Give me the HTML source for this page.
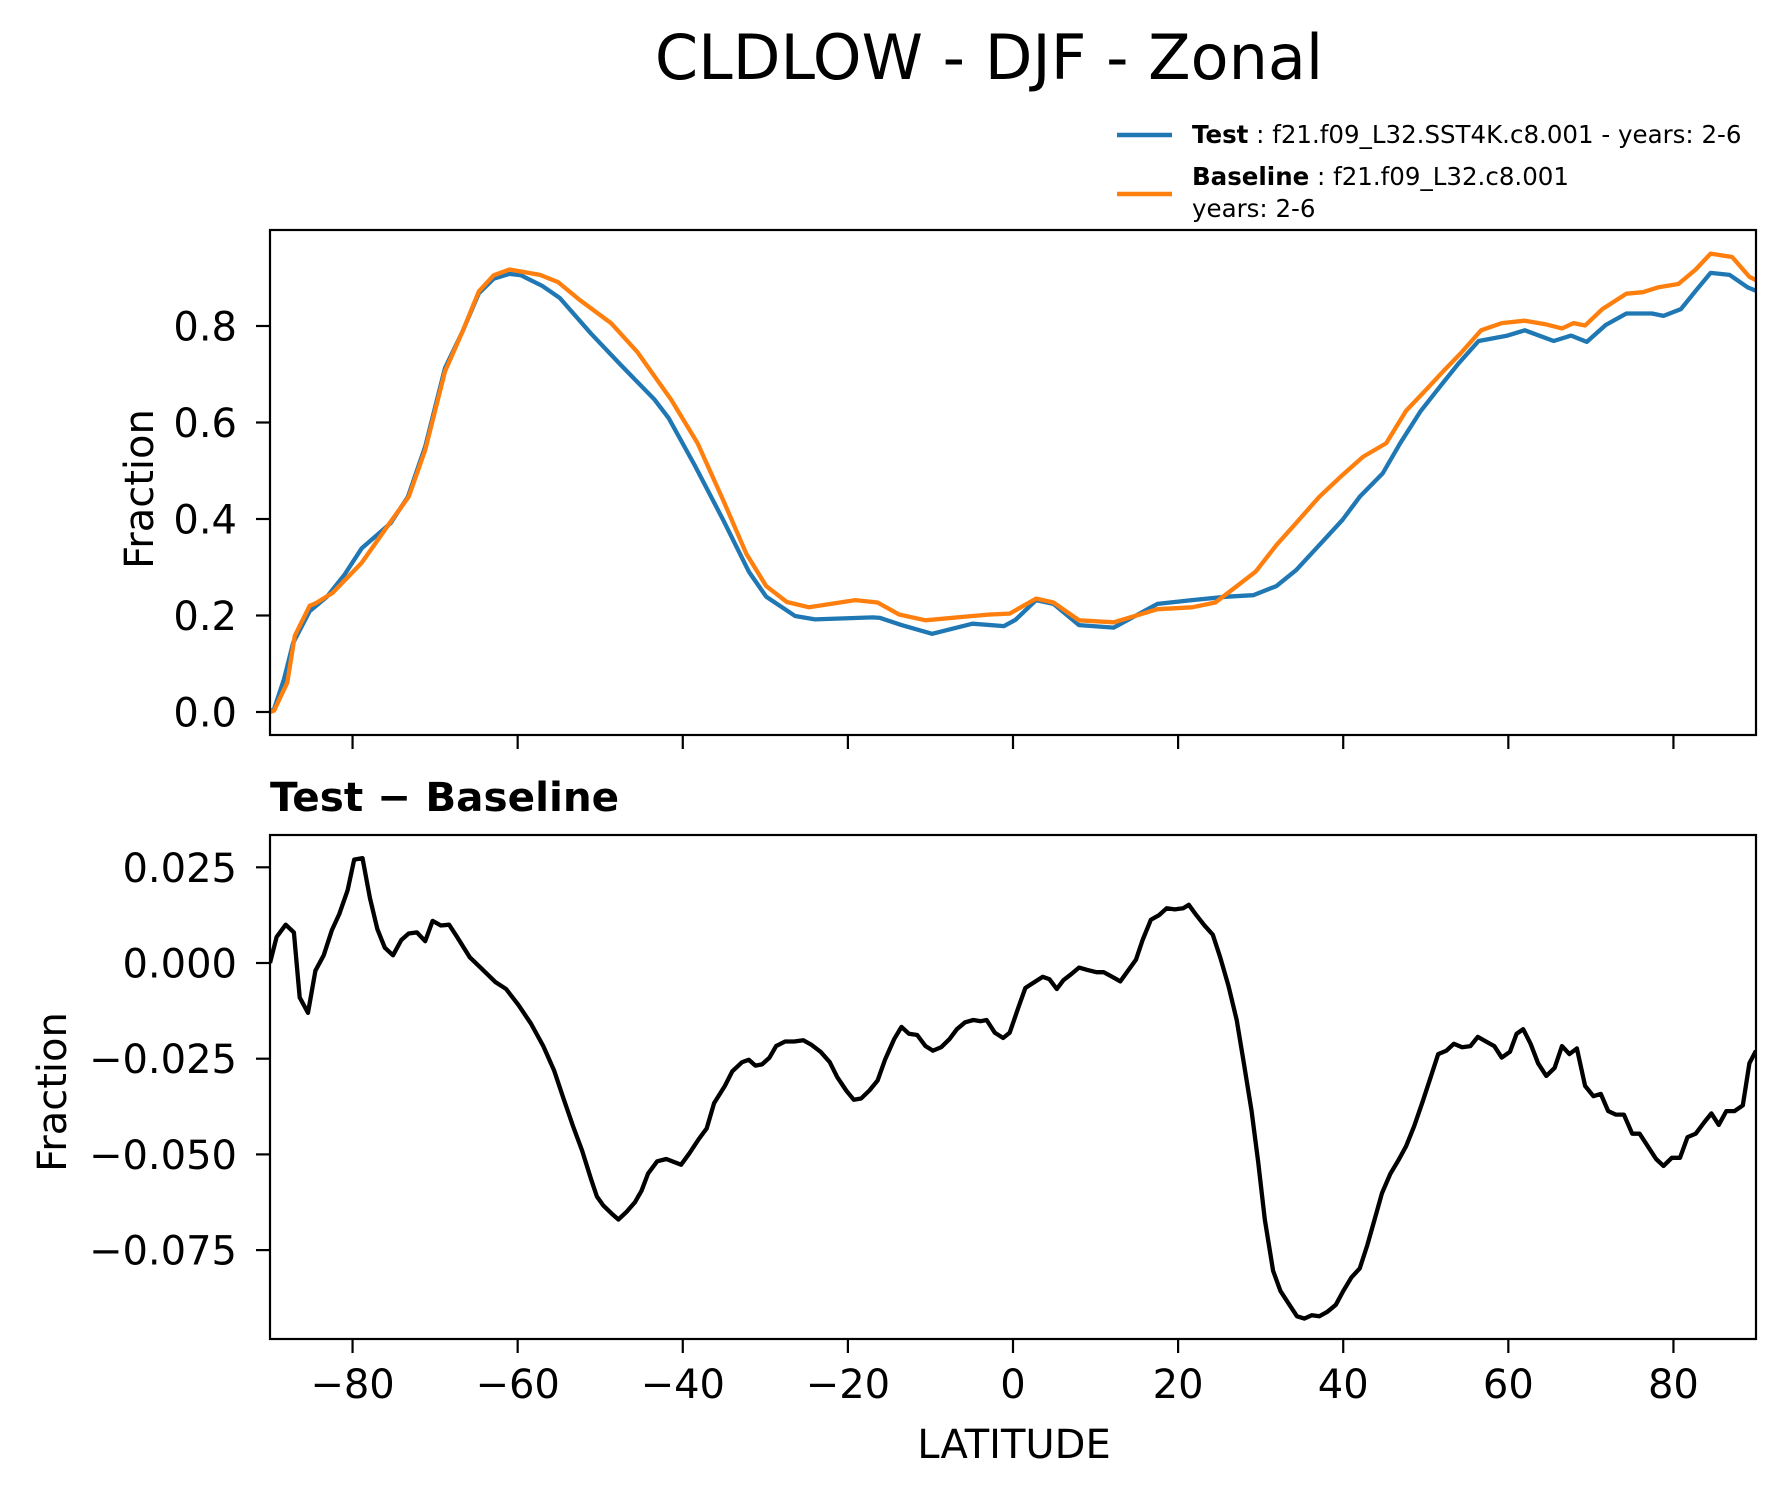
<!DOCTYPE html>
<html><head><meta charset="utf-8"><style>
html,body{margin:0;padding:0;background:#fff;}
svg{display:block;font-family:"DejaVu Sans","Liberation Sans",sans-serif;}
</style></head><body>
<svg id="chart" width="1787" height="1496" viewBox="0 0 1787 1496" xmlns="http://www.w3.org/2000/svg">
<rect width="1787" height="1496" fill="#fff"/>
<text x="989" y="79" font-size="62" text-anchor="middle">CLDLOW - DJF - Zonal</text>
<g>
<line x1="1117" y1="135" x2="1172" y2="135" stroke="#1f77b4" stroke-width="4.5"/>
<text x="1192" y="143" font-size="24.5"><tspan font-weight="bold">Test</tspan> : f21.f09_L32.SST4K.c8.001 - years: 2-6</text>
<line x1="1117" y1="194" x2="1172" y2="194" stroke="#ff7f0e" stroke-width="4.5"/>
<text x="1192" y="185" font-size="24.5"><tspan font-weight="bold">Baseline</tspan> : f21.f09_L32.c8.001</text>
<text x="1192" y="217" font-size="24.5">years: 2-6</text>
</g>
<text x="270" y="811" font-size="40.5" font-weight="bold">Test − Baseline</text>
<text transform="translate(153,489) rotate(-90)" font-size="40" text-anchor="middle">Fraction</text>
<text transform="translate(66,1092) rotate(-90)" font-size="40" text-anchor="middle">Fraction</text>
<text x="1014" y="1458" font-size="40" text-anchor="middle">LATITUDE</text>
<g id="top"></g>
<g id="bot"></g>
</svg>
<script>
const xTicks = [-80,-60,-40,-20,0,20,40,60,80];
const topYTicks = [0.0,0.2,0.4,0.6,0.8];
const topYLabels = ["0.0","0.2","0.4","0.6","0.8"];
const botYTicks = [0.025,0,-0.025,-0.05,-0.075];
const botYLabels = ["0.025","0.000","\u22120.025","\u22120.050","\u22120.075"];
const xLabels = ["\u221280","\u221260","\u221240","\u221220","0","20","40","60","80"];

const testLat = [-90,-89.5,-88.3,-87.2,-85.2,-83.1,-81,-78.9,-75.4,-73.3,-71.2,-68.8,-66.7,-64.7,-62.9,-61,-59.6,-57,-54.9,-51.1,-47.6,-43.4,-41.7,-38.6,-35.1,-32,-29.9,-26.4,-24,-17,-16.1,-13.5,-9.8,-4.9,-1.1,0.3,2.8,4.9,8,12.2,17.5,21.7,25.9,29.1,31.9,34.3,37.1,39.9,42,44.8,46.9,49.4,51.8,53.9,56.4,59.9,62,65.5,67.6,69.5,71.8,74.3,77.4,78.8,80.9,82.7,84.5,86.8,89,90];
const testVal = [0,0.006,0.068,0.143,0.209,0.239,0.284,0.339,0.391,0.446,0.55,0.713,0.788,0.868,0.898,0.908,0.905,0.883,0.858,0.784,0.721,0.647,0.609,0.513,0.398,0.291,0.239,0.199,0.192,0.196,0.195,0.18,0.162,0.183,0.178,0.191,0.232,0.224,0.18,0.175,0.224,0.232,0.239,0.242,0.261,0.294,0.346,0.398,0.446,0.495,0.557,0.624,0.676,0.721,0.769,0.78,0.791,0.769,0.78,0.767,0.802,0.826,0.826,0.821,0.835,0.873,0.91,0.906,0.88,0.873];
const baseLat = [-90,-89.5,-87.9,-87,-85.2,-84.5,-82.4,-78.9,-75.4,-73.2,-71.2,-68.8,-66.7,-64.7,-62.9,-61,-57.3,-55.1,-52.5,-48.7,-45.5,-41.4,-38.2,-35.1,-32.3,-29.9,-27.4,-24.7,-19.1,-16.4,-13.8,-10.6,-5.6,-2.8,-0.4,2.8,4.9,8,12.2,17.5,21.7,24.5,26.6,29.4,31.9,34.3,37.1,39.9,42.4,45.2,47.6,50.1,52.1,54.2,56.7,59.2,62,64.4,66.5,67.9,69.3,71.4,74.3,76.3,78.1,80.6,82.7,84.5,87.1,89.2,90];
const baseVal = [0,0.003,0.061,0.158,0.22,0.225,0.247,0.309,0.394,0.446,0.543,0.706,0.788,0.872,0.905,0.917,0.906,0.891,0.854,0.806,0.746,0.647,0.557,0.439,0.328,0.261,0.228,0.217,0.232,0.227,0.202,0.19,0.198,0.202,0.204,0.235,0.227,0.19,0.186,0.213,0.217,0.227,0.254,0.291,0.346,0.392,0.446,0.491,0.529,0.557,0.624,0.669,0.706,0.743,0.791,0.806,0.811,0.804,0.795,0.806,0.801,0.835,0.867,0.87,0.88,0.887,0.917,0.95,0.943,0.902,0.895];
const diffLat = [-90,-89.2,-88.1,-87.1,-86.4,-85.4,-84.5,-83.5,-82.5,-81.6,-80.6,-79.8,-78.8,-77.9,-77,-76.1,-75.1,-74.1,-73.2,-72.2,-71.2,-70.3,-69.3,-68.3,-67.4,-65.8,-64.5,-62.7,-61.4,-59.9,-58.4,-56.9,-55.6,-54.4,-53.3,-52.2,-51.1,-50.4,-49.6,-48.6,-47.8,-46.8,-45.8,-45,-44.2,-43.1,-42,-40.2,-39.2,-38.1,-37.1,-36.2,-34.9,-34,-32.8,-32,-31.2,-30.4,-29.5,-28.7,-27.6,-26.5,-25.4,-24.4,-23.3,-22.2,-21.3,-20.2,-19.3,-18.4,-17.4,-16.4,-15.5,-14.4,-13.5,-12.6,-11.6,-10.6,-9.7,-8.7,-7.7,-6.8,-5.8,-4.8,-3.9,-3.2,-2.2,-1.2,-0.4,0.6,1.5,2.6,3.6,4.4,5.3,6.1,7,8,9,10.1,11,12,13,14,14.9,15.7,16.7,17.7,18.6,19.6,20.6,21.3,22.2,23.2,24.2,25.1,26.1,27.1,27.9,28.9,29.7,30.5,31.5,32.4,33.4,34.4,35.3,36.2,37.1,38.1,39.1,40,41,42,42.9,43.8,44.7,45.7,46.7,47.6,48.6,49.6,50.6,51.5,52.5,53.4,54.4,55.4,56.3,57.3,58.3,59.2,60.2,61,61.8,62.7,63.6,64.6,65.6,66.5,67.4,68.3,69.3,70.3,71.2,72.1,73,74,75,75.9,76.9,77.9,78.8,79.8,80.8,81.7,82.7,83.7,84.6,85.5,86.4,87.4,88.4,89.2,90];
const diffVal = [0,0.0068,0.01,0.008,-0.009,-0.013,-0.002,0.002,0.0086,0.0128,0.019,0.027,0.0274,0.017,0.0089,0.004,0.002,0.006,0.0077,0.008,0.0057,0.011,0.0098,0.01,0.007,0.0015,-0.0012,-0.005,-0.0068,-0.011,-0.0158,-0.0217,-0.028,-0.0357,-0.0426,-0.049,-0.0565,-0.061,-0.0634,-0.0655,-0.067,-0.065,-0.0625,-0.0595,-0.055,-0.0518,-0.0512,-0.0527,-0.0497,-0.0461,-0.0432,-0.0366,-0.0321,-0.0283,-0.0259,-0.0253,-0.0268,-0.0265,-0.0247,-0.0217,-0.0205,-0.0205,-0.0202,-0.0214,-0.0232,-0.0259,-0.0298,-0.0333,-0.0357,-0.0354,-0.0333,-0.0307,-0.0253,-0.0199,-0.0167,-0.0185,-0.0188,-0.0217,-0.0229,-0.022,-0.0199,-0.0173,-0.0155,-0.0149,-0.0152,-0.0149,-0.0182,-0.0196,-0.0182,-0.0119,-0.0065,-0.005,-0.0036,-0.0042,-0.0068,-0.0045,-0.003,-0.0012,-0.0018,-0.0024,-0.0024,-0.0036,-0.0048,-0.0018,0.0009,0.006,0.0113,0.0125,0.0143,0.014,0.0143,0.0152,0.0125,0.0098,0.0074,0.0015,-0.006,-0.0149,-0.0253,-0.0387,-0.052,-0.067,-0.0804,-0.0857,-0.089,-0.0923,-0.0929,-0.092,-0.0923,-0.0911,-0.0893,-0.0857,-0.0821,-0.0798,-0.0738,-0.067,-0.0601,-0.0551,-0.0515,-0.0479,-0.0426,-0.0363,-0.0298,-0.0238,-0.0229,-0.0211,-0.022,-0.0217,-0.0193,-0.0205,-0.0217,-0.0247,-0.0232,-0.0185,-0.0173,-0.0211,-0.0262,-0.0295,-0.0274,-0.0217,-0.0238,-0.0223,-0.0321,-0.0348,-0.0342,-0.0387,-0.0396,-0.0396,-0.0446,-0.0446,-0.0479,-0.0512,-0.053,-0.0509,-0.0509,-0.0455,-0.0446,-0.0417,-0.0393,-0.0423,-0.0387,-0.0387,-0.0372,-0.0262,-0.0229];

const NS = "http://www.w3.org/2000/svg";
const L = 270, R = 1756;
function xS(v){ return L + (v + 90) / 180 * (R - L); }
function yTop(v){ return 712 - v * 482.5; }
function yBot(v){ return 963 - v / 0.025 * 95.7; }

function mk(tag, attrs, parent){
  const e = document.createElementNS(NS, tag);
  for (const k in attrs) e.setAttribute(k, attrs[k]);
  parent.appendChild(e);
  return e;
}

function drawAxes(g, top, bottom, yTicks, yLabels, yf, showX, prefix){
  const frame = mk('rect', {x:L, y:top, width:R-L, height:bottom-top, fill:'none', stroke:'#000', 'stroke-width':2.2}, g);
  
  
  xTicks.forEach((t, i) => {
    const tk = mk('line', {x1:xS(t), x2:xS(t), y1:bottom, y2:bottom+14, stroke:'#000', 'stroke-width':2.2}, g);
    
    
    if (showX){
      const tl = mk('text', {x:xS(t), y:bottom+59, 'font-size':40, 'text-anchor':'middle'}, g);
      tl.textContent = xLabels[i];
      
      
    }
  });
  yTicks.forEach((t, i) => {
    const y = yf(t);
    const tk = mk('line', {x1:L-14, x2:L, y1:y, y2:y, stroke:'#000', 'stroke-width':2.2}, g);
    
    
    const tl = mk('text', {x:L-33, y:y+14.5, 'font-size':40, 'text-anchor':'end'}, g);
    tl.textContent = yLabels[i];
    
    
  });
}

function drawLine(g, lats, vals, yf, color, name, clipId){
  const d = lats.map((la, i) => (i ? 'L' : 'M') + xS(la).toFixed(1) + ',' + yf(vals[i]).toFixed(1)).join('');
  const p = mk('path', {d:d, fill:'none', stroke:color, 'stroke-width':4.3, 'stroke-linejoin':'round', 'clip-path':'url(#' + clipId + ')'}, g);
  
  
}

const svg = document.getElementById('chart');
const defs = mk('defs', {}, svg);
const c1 = mk('clipPath', {id:'clipTop'}, defs);
mk('rect', {x:L, y:230, width:R-L, height:505}, c1);
const c2 = mk('clipPath', {id:'clipBot'}, defs);
mk('rect', {x:L, y:835, width:R-L, height:504}, c2);

const gTop = document.getElementById('top');


drawLine(gTop, testLat, testVal, yTop, '#1f77b4', 'test-line', 'clipTop');
drawLine(gTop, baseLat, baseVal, yTop, '#ff7f0e', 'baseline-line', 'clipTop');
drawAxes(gTop, 230, 735, topYTicks, topYLabels, yTop, false, 'top');

const gBot = document.getElementById('bot');


drawLine(gBot, diffLat, diffVal, yBot, '#000', 'diff-line', 'clipBot');
drawAxes(gBot, 835, 1339, botYTicks, botYLabels, yBot, true, 'bottom');
</script>
</body></html>
